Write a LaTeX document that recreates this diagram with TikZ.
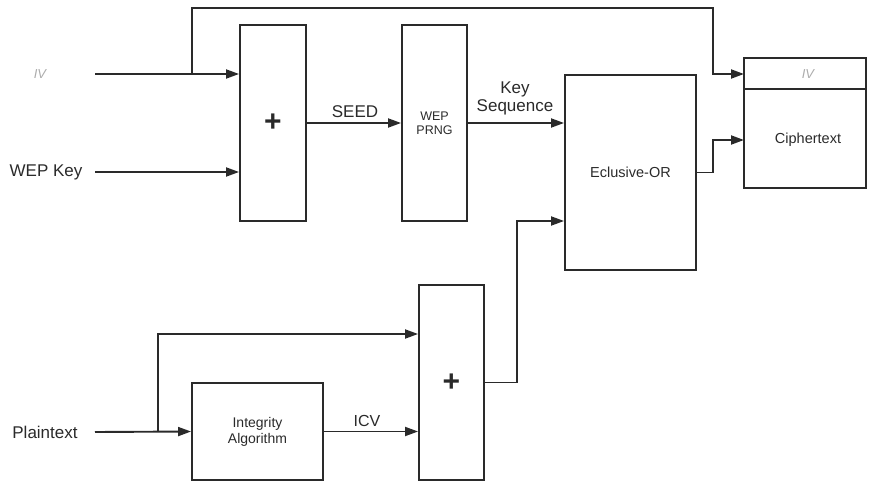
\documentclass[tikz,border=0pt]{standalone}
\usepackage{fontspec}
\setmainfont{Liberation Sans}
\usetikzlibrary{arrows.meta,calc}
\definecolor{ln}{HTML}{2A2A2A}
\tikzset{
  box/.style={draw=ln, line width=1.9pt, rectangle, inner sep=0pt, align=center, text=ln},
  arr/.style={draw=ln, line width=1.9pt, -{Triangle[length=13pt,width=9pt]}},
  wire/.style={draw=ln, line width=1.9pt},
  lbl/.style={text=ln, inner sep=0pt, align=center},
  ivl/.style={text=gray!65, inner sep=0pt, font=\fontsize{13}{13}\selectfont\itshape},
}
\begin{document}
\begin{tikzpicture}[x=1pt,y=-1pt]
\useasboundingbox (0,0) rectangle (870,481);
% boxes
\node[box, minimum width=66pt, minimum height=196pt, font=\fontsize{30}{30}\selectfont\bfseries] (plus1) at (273,123) {+};
\node[box, minimum width=65pt, minimum height=196pt, font=\fontsize{12.5}{14}\selectfont] (prng) at (434.5,123) {WEP\\PRNG};
\node[box, minimum width=131pt, minimum height=195pt, font=\fontsize{14.5}{16}\selectfont] (xor) at (630.5,172.5) {Eclusive-OR};
\node[box, minimum width=122pt, minimum height=130pt] (cipher) at (805,123) {};
\node[box, minimum width=131pt, minimum height=97pt, font=\fontsize{14}{16}\selectfont] (integ) at (257.5,431.5) {Integrity\\Algorithm};
\node[box, minimum width=65pt, minimum height=195pt, font=\fontsize{30}{30}\selectfont\bfseries] (plus2) at (451.5,382.5) {+};
% cipher divider and texts
\coordinate (dvl) at ($(cipher.north west)+(0,32)$);
\coordinate (dvr) at ($(cipher.north east)+(0,32)$);
\draw[wire] (dvl) -- (dvr);
\node[ivl] (ivc) at (808,74) {IV};
\node[lbl, font=\fontsize{14.5}{16}\selectfont] (ctext) at (808,140) {Ciphertext};
% input labels
\node[ivl] (ivin) at (40,74) {IV};
\node[lbl, font=\fontsize{17}{19}\selectfont] (wep) at (46,172) {WEP Key};
\node[lbl, font=\fontsize{17}{19}\selectfont] (plain) at (45,432) {Plaintext};
% free ends
\coordinate (ivs) at (95,74);
\coordinate (wks) at (95,172);
\coordinate (pts) at (95,432);
\coordinate (br1) at (192,74);
\coordinate (br2) at (158,432);
\coordinate (civ) at (744,74);
\coordinate (cct) at (744,140);
% connectors
\draw[arr] (ivs) -- (plus1.west |- ivs);
\draw[arr] (br1) -- (192,8) -- (713,8) |- (civ);
\draw[arr] (wks) -- (plus1.west |- wks);
\draw[arr] (plus1.east) -- (prng.west);
\node[lbl, font=\fontsize{17}{19}\selectfont] (seed) at (355,112) {SEED};
\draw[arr] (prng.east) -- (xor.west |- prng.east);
\node[lbl, font=\fontsize{17}{19}\selectfont] (keyseq) at (515,98) {Key\\[-1pt]Sequence};
\draw[arr] (xor.east) -- (713,172.5) |- (cct);
\draw[arr] (pts) -- (integ.west);
\draw[arr] (br2) |- (plus2.west |- 0,334);
\draw[arr] (integ.east) -- (plus2.west |- integ.east);
\node[lbl, font=\fontsize{16}{18}\selectfont] (icv) at (367,421) {ICV};
\draw[arr] (plus2.east) -- (517,382.5) |- (xor.west |- 0,221);
\end{tikzpicture}
\end{document}
